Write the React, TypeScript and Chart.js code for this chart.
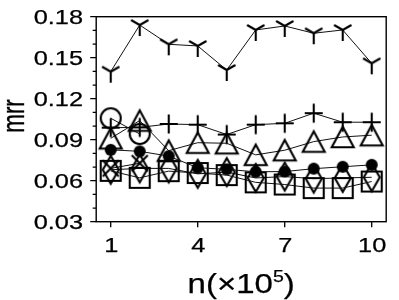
import React, { useEffect, useRef } from 'react';
import { Chart, registerables } from 'chart.js';

Chart.register(...registerables);

// ---- data ----
const nValues = [1, 2, 3, 4, 5, 6, 7, 8, 9, 10];
const triDownSeries = [0.1398, 0.1739, 0.1598, 0.1586, 0.141, 0.1703, 0.1732, 0.1679, 0.1703, 0.1459];
const plusSeries = [0.0988, 0.099, 0.1015, 0.101, 0.0938, 0.101, 0.102, 0.1094, 0.1028, 0.1028];
const triUpSeries = [0.091, 0.104, 0.082, 0.0878, 0.0874, 0.0789, 0.0823, 0.0886, 0.092, 0.0933];
const circleSeries = [0.1057, 0.0942];
const dotSeries = [0.0826, 0.0815, 0.078, 0.0695, 0.0683, 0.0665, 0.0667, 0.0688, 0.0702, 0.0716];
const squareSeries = [0.0672, 0.0621, 0.067, 0.0656, 0.0641, 0.0588, 0.0572, 0.0546, 0.0546, 0.0594];
const diamondSeries = [0.068, 0.069, 0.069, 0.065, 0.0663, 0.062, 0.063, 0.0615, 0.062, 0.0625];
const crossSeries = [0.069, 0.0728];

const xTickValues = [1, 4, 7, 10];
const xTickLabels = ['1', '4', '7', '10'];
const yTickValues = [0.03, 0.06, 0.09, 0.12, 0.15, 0.18];
const yTickLabels = ['0.03', '0.06', '0.09', '0.12', '0.15', '0.18'];
const yMinorTickValues = [0.04, 0.05, 0.07, 0.08, 0.1, 0.11, 0.13, 0.14, 0.16, 0.17];
const xTitleMain = 'n(×10';
const xTitleSup = '5';
const xTitleEnd = ')';
const yTitle = 'mrr';

const FONT = "'Liberation Sans', Arial, Helvetica, sans-serif";

function makeMarker(kind: string): HTMLCanvasElement {
  const c = document.createElement('canvas');
  c.width = 36;
  c.height = 36;
  const g = c.getContext('2d') as CanvasRenderingContext2D;
  const m = 18;
  g.strokeStyle = '#000';
  g.fillStyle = '#000';
  g.lineWidth = 2.1;
  g.lineJoin = 'miter';
  g.beginPath();
  switch (kind) {
    case 'circle':
      g.arc(m, m, 10, 0, Math.PI * 2);
      g.stroke();
      break;
    case 'dot':
      g.arc(m, m, 6, 0, Math.PI * 2);
      g.fill();
      break;
    case 'triUp':
      g.moveTo(m, m - 10.3);
      g.lineTo(m + 11, m + 10.3);
      g.lineTo(m - 11, m + 10.3);
      g.closePath();
      g.stroke();
      break;
    case 'square':
      g.rect(m - 10, m - 10, 20, 20);
      g.stroke();
      break;
    case 'diamond':
      g.moveTo(m, m - 14);
      g.lineTo(m + 8, m);
      g.lineTo(m, m + 14);
      g.lineTo(m - 8, m);
      g.closePath();
      g.stroke();
      break;
    case 'plus':
      g.moveTo(m - 9, m);
      g.lineTo(m + 9, m);
      g.moveTo(m, m - 9.5);
      g.lineTo(m, m + 9.5);
      g.stroke();
      break;
    case 'cross':
      g.moveTo(m - 8, m - 8);
      g.lineTo(m + 8, m + 8);
      g.moveTo(m + 8, m - 8);
      g.lineTo(m - 8, m + 8);
      g.stroke();
      break;
    case 'triDown':
      g.moveTo(m, m);
      g.lineTo(m, m + 11);
      g.moveTo(m, m);
      g.lineTo(m - 10 * 0.866, m - 10 * 0.5);
      g.moveTo(m, m);
      g.lineTo(m + 10 * 0.866, m - 10 * 0.5);
      g.stroke();
      break;
  }
  return c;
}

function heavyText(ctx: CanvasRenderingContext2D, s: string, x: number, y: number) {
  ctx.fillText(s, x, y);
  ctx.strokeText(s, x, y);
}

const axesPlugin = {
  id: 'mplAxes',
  afterDraw(chart: any) {
    const { ctx, chartArea: a, scales } = chart;
    const xs = scales.x;
    const ys = scales.y;
    ctx.save();
    ctx.strokeStyle = '#000';
    ctx.fillStyle = '#000';
    ctx.lineWidth = 1.4;
    ctx.strokeRect(a.left, a.top, a.right - a.left, a.bottom - a.top);

    ctx.lineWidth = 1.3;
    ctx.beginPath();
    yTickValues.forEach((v) => {
      const y = ys.getPixelForValue(v);
      ctx.moveTo(a.left - 6, y);
      ctx.lineTo(a.left, y);
    });
    yMinorTickValues.forEach((v) => {
      const y = ys.getPixelForValue(v);
      ctx.moveTo(a.left - 3.5, y);
      ctx.lineTo(a.left, y);
    });
    xTickValues.forEach((v) => {
      const x = xs.getPixelForValue(v);
      ctx.moveTo(x, a.bottom);
      ctx.lineTo(x, a.bottom + 5.5);
    });
    ctx.stroke();

    ctx.lineWidth = 0.25;
    ctx.lineJoin = 'round';

    // tick labels
    const tickSx = 1.3;
    ctx.font = `19.5px ${FONT}`;
    ctx.textBaseline = 'alphabetic';
    ctx.textAlign = 'right';
    yTickValues.forEach((v, i) => {
      const y = ys.getPixelForValue(v);
      ctx.save();
      ctx.translate(83, y + 7);
      ctx.scale(tickSx, 1);
      heavyText(ctx, yTickLabels[i], 0, 0);
      ctx.restore();
    });
    ctx.textAlign = 'center';
    xTickValues.forEach((v, i) => {
      const x = xs.getPixelForValue(v);
      ctx.save();
      ctx.translate(x + 0.5, 251.7);
      ctx.scale(tickSx, 1);
      heavyText(ctx, xTickLabels[i], 0, 0);
      ctx.restore();
    });

    // x title with superscript
    ctx.save();
    const cx = (a.left + a.right) / 2;
    ctx.translate(cx, 293.3);
    ctx.scale(1.18, 1);
    ctx.textAlign = 'left';
    const mainFont = `28px ${FONT}`;
    const supFont = `16.5px ${FONT}`;
    ctx.font = mainFont;
    const w1 = ctx.measureText(xTitleMain).width;
    const w3 = ctx.measureText(xTitleEnd).width;
    ctx.font = supFont;
    const w2 = ctx.measureText(xTitleSup).width;
    const start = -(w1 + w2 + w3) / 2;
    ctx.font = mainFont;
    heavyText(ctx, xTitleMain, start, 0);
    ctx.font = supFont;
    heavyText(ctx, xTitleSup, start + w1, -11.6);
    ctx.font = mainFont;
    heavyText(ctx, xTitleEnd, start + w1 + w2, 0);
    ctx.restore();

    // y title
    ctx.save();
    ctx.translate(23.8, 116);
    ctx.scale(1.36, 1);
    ctx.rotate(-Math.PI / 2);
    ctx.font = `22.5px ${FONT}`;
    ctx.textAlign = 'center';
    heavyText(ctx, yTitle, 0, 0);
    ctx.restore();

    ctx.restore();
  },
};

export default function App() {
  const ref = useRef<HTMLCanvasElement | null>(null);

  useEffect(() => {
    document.body.style.margin = '0';
    document.body.style.overflow = 'hidden';
    const canvas = ref.current;
    if (!canvas) return;

    const mk = (vals: number[], kind: string) => ({
      data: vals.map((y, i) => ({ x: nValues[i], y })),
      borderColor: '#111',
      borderWidth: 1,
      pointStyle: makeMarker(kind),
      pointRadius: 10,
      pointHoverRadius: 10,
      showLine: true,
      fill: false,
      tension: 0,
    });

    const chart = new Chart(canvas, {
      type: 'scatter',
      data: {
        datasets: [
          mk(dotSeries, 'dot'),
          mk(circleSeries, 'circle'),
          mk(triUpSeries, 'triUp'),
          mk(plusSeries, 'plus'),
          mk(squareSeries, 'square'),
          mk(diamondSeries, 'diamond'),
          mk(crossSeries, 'cross'),
          mk(triDownSeries, 'triDown'),
        ] as any,
      },
      options: {
        animation: false,
        responsive: false,
        devicePixelRatio: 1,
        events: [],
        layout: { padding: { left: 96.2, right: 399 - 386.2, top: 16.7, bottom: 300 - 221.7 } },
        plugins: { legend: { display: false }, tooltip: { enabled: false } },
        scales: {
          x: { type: 'linear', min: 0.5, max: 10.5, display: false },
          y: { type: 'linear', min: 0.03, max: 0.18, display: false },
        },
      },
      plugins: [axesPlugin],
    });

    return () => chart.destroy();
  }, []);

  return (
    <div style={{ width: 399, height: 300, background: '#fff' }}>
      <canvas ref={ref} width={399} height={300} style={{ display: 'block' }} />
    </div>
  );
}
